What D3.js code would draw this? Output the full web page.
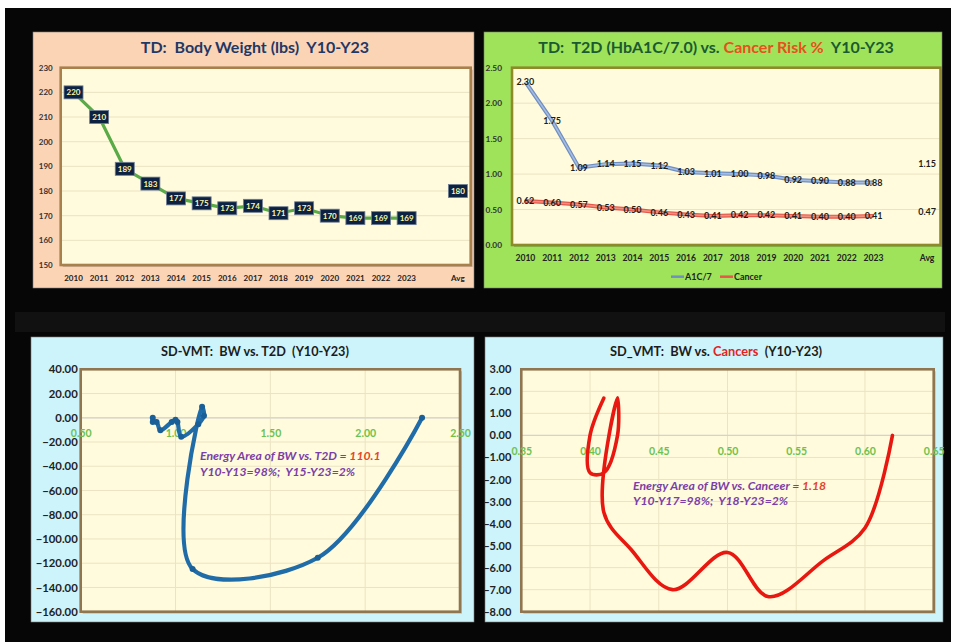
<!DOCTYPE html>
<html>
<head>
<meta charset="utf-8">
<script src="https://cdn.jsdelivr.net/npm/d3@7"></script>
<style>
  body { margin: 0; background: #fff; }
  svg { display: block; font-family: Lato, "Open Sans", sans-serif; }
  text { white-space: pre; }
</style>
</head>
<body>
<svg id="chart" width="964" height="642"></svg>
<script>
// ---------- data ----------
const years = ["2010","2011","2012","2013","2014","2015","2016","2017","2018","2019","2020","2021","2022","2023"];
const gapLabel = " ";
const avgLabel = "Avg";

const bodyWeight = [220,210,189,183,177,175,173,174,171,173,170,169,169,169];
const bodyWeightAvg = 180;
const bwTicks = [150,160,170,180,190,200,210,220,230];

const a1c7 = [2.30,1.75,1.09,1.14,1.15,1.12,1.03,1.01,1.00,0.98,0.92,0.90,0.88,0.88];
const a1c7Avg = 1.15;
const cancerRisk = [0.62,0.60,0.57,0.53,0.50,0.46,0.43,0.41,0.42,0.42,0.41,0.40,0.40,0.41];
const cancerAvg = 0.47;
const riskTicks = [0,0.5,1.0,1.5,2.0,2.5];

// SD-VMT energy per year (y) against the risk value of that year (x)
const bwT2dEnergy = [0,-115.5,-124.74,9.15,1.77,-5.25,-15.57,-3.48,-1.71,-3.46,-10.2,-3.38,-3.38,0];
const t2dXTicks = [0.5,1.0,1.5,2.0,2.5];
const t2dYTicks = [40,20,0,-20,-40,-60,-80,-100,-120,-140,-160];

const bwCancerEnergy = [0,-4.2,-5.67,-7.32,-5.31,-7.0,-5.19,-3.48,1.71,0,-1.7,-1.69,0,1.69];
const cancerXTicks = [0.35,0.40,0.45,0.50,0.55,0.60,0.65];
const cancerYTicks = [3,2,1,0,-1,-2,-3,-4,-5,-6,-7,-8];

// ---------- page ----------
const svg = d3.select("#chart");
svg.append("rect").attr("width", 964).attr("height", 642).attr("fill", "#fff");
svg.append("rect").attr("x", 5).attr("y", 8).attr("width", 946).attr("height", 634).attr("fill", "#060606");
svg.append("rect").attr("x", 15).attr("y", 312).attr("width", 930).attr("height", 20).attr("fill", "#111");

function panelBox(x, y, w, h, fill) {
  svg.append("rect").attr("x", x).attr("y", y).attr("width", w).attr("height", h)
    .attr("fill", fill).attr("stroke", "#7a7a7a").attr("stroke-width", 0.6);
}
function plotFill(p) {
  svg.append("rect").attr("x", p.l + 2).attr("y", p.t + 2).attr("width", p.r - p.l).attr("height", p.b - p.t)
    .attr("fill", "rgba(0,0,0,0.18)");
  svg.append("rect").attr("x", p.l).attr("y", p.t).attr("width", p.r - p.l).attr("height", p.b - p.t)
    .attr("fill", "#fffbdc");
}
function plotFrame(p, stroke) {
  svg.append("rect").attr("x", p.l).attr("y", p.t).attr("width", p.r - p.l).attr("height", p.b - p.t)
    .attr("fill", "none").attr("stroke", stroke).attr("stroke-width", 2.6);
}
function hGrid(p, y, ticks) {
  svg.append("g").selectAll("line").data(ticks).join("line")
    .attr("x1", p.l).attr("x2", p.r).attr("y1", d => y(d)).attr("y2", d => y(d))
    .attr("stroke", "#ebe3c3").attr("stroke-width", 1);
}
function vGrid(p, x, ticks) {
  svg.append("g").selectAll("line").data(ticks).join("line")
    .attr("y1", p.t).attr("y2", p.b).attr("x1", d => x(d)).attr("x2", d => x(d))
    .attr("stroke", "#ebe3c3").attr("stroke-width", 1);
}
function styleAxis(g, size, color) {
  g.select(".domain").remove();
  g.selectAll("text").attr("font-size", size).attr("font-weight", 700)
    .attr("font-family", "Lato, sans-serif").attr("fill", color);
}
function bottomLabels(axis, yPos, size, color) {
  const g = svg.append("g").attr("transform", `translate(0,${yPos})`)
    .call(axis.tickSize(0).tickPadding(0));
  styleAxis(g, size, color);
  g.selectAll("text").attr("y", 0).attr("dy", "0.35em");
  return g;
}

// ---------- top-left: body weight ----------
panelBox(33, 32, 441, 256, "#fbd4b6");
const tl = { l: 60.7, r: 470.7, t: 67.7, b: 265 };
const catsTop = [...years, gapLabel, avgLabel];
const xBW = d3.scaleBand().domain(catsTop).range([tl.l, tl.r]);
const yBW = d3.scaleLinear().domain([150, 230]).range([tl.b, tl.t]);
plotFill(tl);
hGrid(tl, yBW, bwTicks.slice(1, -1));
plotFrame(tl, "#a7804c");

svg.append("text").attr("x", 255).attr("y", 52.5).attr("text-anchor", "middle")
  .attr("font-size", 16).attr("font-weight", 700).attr("fill", "#1f3864")
  .text("TD:  Body Weight (lbs)  Y10-Y23");

{
  const g = svg.append("g").attr("transform", `translate(${tl.l - 8},0)`)
    .call(d3.axisLeft(yBW).tickValues(bwTicks).tickSize(0).tickPadding(0));
  styleAxis(g, 8, "#333");
}
bottomLabels(d3.axisBottom(xBW), 278, 8, "#222");

const bwPts = years.map((yr, i) => [xBW(yr) + xBW.bandwidth() / 2, yBW(bodyWeight[i])]);
svg.append("path").attr("d", d3.line()(bwPts)).attr("fill", "none")
  .attr("stroke", "#5aab47").attr("stroke-width", 3.2);

const bwLabelData = years.map((yr, i) => ({ c: yr, v: bodyWeight[i] }))
  .concat([{ c: avgLabel, v: bodyWeightAvg }]);
const bwLab = svg.append("g").selectAll("g").data(bwLabelData).join("g")
  .attr("transform", d => `translate(${xBW(d.c) + xBW.bandwidth() / 2},${yBW(d.v)})`);
bwLab.append("rect").attr("x", -9.5).attr("y", -6.5).attr("width", 19).attr("height", 13)
  .attr("fill", "#0d2143").attr("stroke", "#6f7f95").attr("stroke-width", 0.8);
bwLab.append("text").attr("text-anchor", "middle").attr("dy", "0.36em")
  .attr("font-size", 8).attr("font-weight", 700).attr("fill", "#fbf7a2")
  .text(d => d.v);

// ---------- top-right: A1C/7 vs cancer risk ----------
panelBox(484, 32, 458, 256, "#9ee35a");
const tr = { l: 512, r: 940.5, t: 67.7, b: 245 };
const xR = d3.scaleBand().domain(catsTop).range([tr.l, tr.r]);
const yR = d3.scaleLinear().domain([0, 2.5]).range([tr.b, tr.t]);
plotFill(tr);
hGrid(tr, yR, riskTicks.slice(1, -1));
plotFrame(tr, "#8e8a2c");

{
  const t = svg.append("text").attr("x", 716).attr("y", 52.5).attr("text-anchor", "middle")
    .attr("font-size", 16).attr("font-weight", 700).attr("fill", "#1b5a31");
  t.append("tspan").text("TD:  T2D (HbA1C/7.0) vs. ");
  t.append("tspan").attr("fill", "#e8501c").text("Cancer Risk %");
  t.append("tspan").text("  Y10-Y23");
}
{
  const g = svg.append("g").attr("transform", `translate(${tr.l - 10},0)`)
    .call(d3.axisLeft(yR).tickValues(riskTicks).tickSize(0).tickPadding(0).tickFormat(d3.format(".2f")));
  styleAxis(g, 8.3, "#333");
}
bottomLabels(d3.axisBottom(xR), 258, 8.6, "#222");

const seriesR = [
  { name: "A1C/7", vals: a1c7, avg: a1c7Avg, outer: "#6f8fc2", inner: "#a6bce0" },
  { name: "Cancer", vals: cancerRisk, avg: cancerAvg, outer: "#e4574a", inner: "#f3907f" }
];
seriesR.forEach(s => {
  const pts = years.map((yr, i) => [xR(yr) + xR.bandwidth() / 2, yR(s.vals[i])]);
  svg.append("path").attr("d", d3.line()(pts)).attr("fill", "none").attr("stroke", s.outer).attr("stroke-width", 4);
  svg.append("path").attr("d", d3.line()(pts)).attr("fill", "none").attr("stroke", s.inner).attr("stroke-width", 1.6);
  const labs = years.map((yr, i) => ({ c: yr, v: s.vals[i] })).concat([{ c: avgLabel, v: s.avg }]);
  svg.append("g").selectAll("text").data(labs).join("text")
    .attr("x", d => xR(d.c) + xR.bandwidth() / 2).attr("y", d => yR(d.v)).attr("dy", "0.35em")
    .attr("text-anchor", "middle").attr("font-size", 9).attr("font-weight", 700).attr("fill", "#1e1e1e")
    .text(d => d3.format(".2f")(d.v));
});
// legend
{
  const lg = svg.append("g").attr("transform", "translate(0,276.7)");
  const items = [{ x: 671, s: seriesR[0] }, { x: 720, s: seriesR[1] }];
  items.forEach(it => {
    lg.append("line").attr("x1", it.x).attr("x2", it.x + 13).attr("stroke", it.s.outer).attr("stroke-width", 2.5);
    lg.append("text").attr("x", it.x + 14).attr("dy", "0.35em").attr("font-size", 9)
      .attr("font-weight", 700).attr("fill", "#222").text(it.s.name);
  });
}

// ---------- bottom-left: SD-VMT BW vs T2D ----------
panelBox(31, 337, 443, 285, "#cdf4fb");
const bl = { l: 80.7, r: 460, t: 369.3, b: 611.7 };
const xT = d3.scaleLinear().domain([0.5, 2.5]).range([bl.l, bl.r]);
const yT = d3.scaleLinear().domain([-160, 40]).range([bl.b, bl.t]);
plotFill(bl);
hGrid(bl, yT, t2dYTicks.slice(1, -1));
vGrid(bl, xT, t2dXTicks.slice(1, -1));
svg.append("line").attr("x1", bl.l).attr("x2", bl.r).attr("y1", yT(0)).attr("y2", yT(0))
  .attr("stroke", "#d2d2d2").attr("stroke-width", 1.2);
plotFrame(bl, "#8f7550");

svg.append("text").attr("x", 255).attr("y", 355.5).attr("text-anchor", "middle")
  .attr("font-size", 12.7).attr("font-weight", 700).attr("fill", "#1c1c1c")
  .text("SD-VMT:  BW vs. T2D  (Y10-Y23)");
{
  const g = svg.append("g").attr("transform", `translate(${bl.l - 3},0)`)
    .call(d3.axisLeft(yT).tickValues(t2dYTicks).tickSize(0).tickPadding(0).tickFormat(d3.format(".2f")));
  styleAxis(g, 11.3, "#222");
}
bottomLabels(d3.axisBottom(xT).tickValues(t2dXTicks).tickFormat(d3.format(".2f")),
  yT(0) + 15.5, 10.5, "#6cc24f");

const t2dPts = years.map((yr, i) => [xT(a1c7[i]), yT(bwT2dEnergy[i])]);
svg.append("path").attr("d", d3.line().curve(d3.curveCatmullRom.alpha(0.5))(t2dPts))
  .attr("fill", "none").attr("stroke", "#1f6ca8").attr("stroke-width", 4.2)
  .attr("stroke-linejoin", "round").attr("stroke-linecap", "round");
svg.append("g").selectAll("circle").data(t2dPts).join("circle")
  .attr("cx", d => d[0]).attr("cy", d => d[1]).attr("r", 3).attr("fill", "#1a5f97");

{
  const a = svg.append("text").attr("x", 200).attr("y", 459.5).attr("font-size", 12.2)
    .attr("font-weight", 700).attr("font-style", "italic").attr("fill", "#7a3fa8");
  a.append("tspan").text("Energy Area of BW vs. T2D = ");
  a.append("tspan").attr("fill", "#e5452a").text("110.1");
  svg.append("text").attr("x", 200).attr("y", 476).attr("font-size", 12.2)
    .attr("font-weight", 700).attr("font-style", "italic").attr("fill", "#7a3fa8")
    .text("Y10-Y13=98%;  Y15-Y23=2%");
}

// ---------- bottom-right: SD-VMT BW vs cancers ----------
panelBox(485, 337, 458, 285, "#cdf4fb");
const br = { l: 521.3, r: 933.7, t: 369.3, b: 611.7 };
const xC = d3.scaleLinear().domain([0.35, 0.65]).range([br.l, br.r]);
const yC = d3.scaleLinear().domain([-8, 3]).range([br.b, br.t]);
plotFill(br);
hGrid(br, yC, cancerYTicks.slice(1, -1));
vGrid(br, xC, cancerXTicks.slice(1, -1));
svg.append("line").attr("x1", br.l).attr("x2", br.r).attr("y1", yC(0)).attr("y2", yC(0))
  .attr("stroke", "#d2d2d2").attr("stroke-width", 1.2);
plotFrame(br, "#8f7550");

{
  const t = svg.append("text").attr("x", 716).attr("y", 355.5).attr("text-anchor", "middle")
    .attr("font-size", 12.8).attr("font-weight", 700).attr("fill", "#1c1c1c");
  t.append("tspan").text("SD_VMT:  BW vs. ");
  t.append("tspan").attr("fill", "#e02424").text("Cancers");
  t.append("tspan").text("  (Y10-Y23)");
}
{
  const g = svg.append("g").attr("transform", `translate(${br.l - 10},0)`)
    .call(d3.axisLeft(yC).tickValues(cancerYTicks).tickSize(0).tickPadding(0).tickFormat(d3.format(".2f")));
  styleAxis(g, 11, "#222");
}
bottomLabels(d3.axisBottom(xC).tickValues(cancerXTicks).tickFormat(d3.format(".2f")),
  yC(0) + 15.6, 10.5, "#6cc24f");

const cancerPts = years.map((yr, i) => [xC(cancerRisk[i]), yC(bwCancerEnergy[i])]);
svg.append("path").attr("d", d3.line().curve(d3.curveCatmullRom.alpha(0.5))(cancerPts))
  .attr("fill", "none").attr("stroke", "#e8170f").attr("stroke-width", 3.6)
  .attr("stroke-linejoin", "round").attr("stroke-linecap", "round");

{
  const a = svg.append("text").attr("x", 633).attr("y", 489.5).attr("font-size", 12.2)
    .attr("font-weight", 700).attr("font-style", "italic").attr("fill", "#7a3fa8");
  a.append("tspan").text("Energy Area of BW vs. Canceer = ");
  a.append("tspan").attr("fill", "#e5452a").text("1.18");
  svg.append("text").attr("x", 633).attr("y", 505).attr("font-size", 12.2)
    .attr("font-weight", 700).attr("font-style", "italic").attr("fill", "#7a3fa8")
    .text("Y10-Y17=98%;  Y18-Y23=2%");
}
</script>
</body>
</html>
